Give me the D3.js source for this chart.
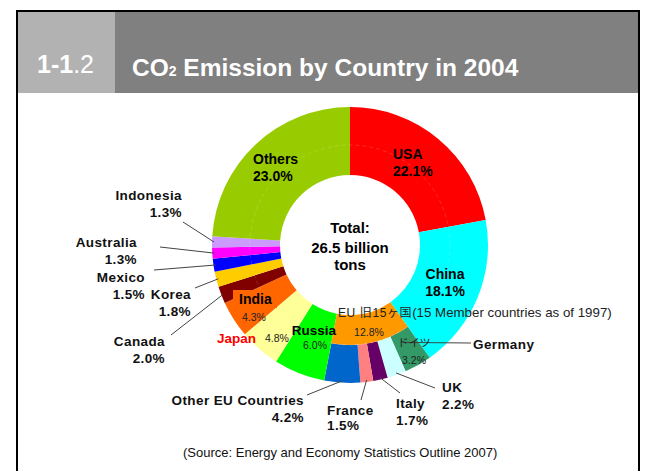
<!DOCTYPE html>
<html>
<head>
<meta charset="utf-8">
<script src="https://cdn.jsdelivr.net/npm/d3@7"></script>
<style>
  body { margin: 0; background: #fff; }
  svg { font-family: "Liberation Sans", Arial, "Noto Sans CJK JP", sans-serif; }
  .big { font-weight: bold; font-size: 14px; fill: #000; }
  .side { font-weight: bold; font-size: 13.5px; fill: #111; letter-spacing: 0.4px; }
  .small { font-size: 10.5px; fill: #222; }
</style>
</head>
<body>
<script>
// shares of world CO2 emission, 2004 (%), clockwise from 12 o'clock
var countries = ["USA", "China", "Germany", "UK", "Italy", "France", "Other EU Countries",
  "Russia", "Japan", "India", "Canada", "Korea", "Mexico", "Australia", "Indonesia", "Others"];
var shares = [22.1, 18.1, 3.2, 2.2, 1.7, 1.5, 4.2, 6.0, 4.8, 4.3, 2.0, 1.8, 1.5, 1.3, 1.3, 23.0];
var colors = ["#ff0000", "#00ffff", "#339966", "#ccffff", "#660066", "#ff8080", "#0066cc",
  "#00ff00", "#ffff99", "#ff6600", "#800000", "#ffcc00", "#0000ff", "#ff00ff", "#cc99ff", "#99cc00"];
var euMembers = ["Germany", "UK", "Italy", "France", "Other EU Countries"];
var euShare = 12.8;
var total = "26.5 billion";

var W = 646, H = 471,
  cx = 350, cy = 245,
  rIn = 70, rMid = 100, rOut = 138;

var svg = d3.select("body").append("svg")
  .attr("width", W)
  .attr("height", H);

// frame + header
svg.append("rect").attr("x", 17).attr("y", 11).attr("width", 622).attr("height", 480)
  .attr("fill", "#fff").attr("stroke", "#000").attr("stroke-width", 2);
svg.append("rect").attr("x", 18).attr("y", 12).attr("width", 620).attr("height", 81).attr("fill", "#808080");
svg.append("rect").attr("x", 18).attr("y", 12).attr("width", 97).attr("height", 81).attr("fill", "#b2b2b2");

var num = svg.append("text").attr("x", 37).attr("y", 73)
  .attr("fill", "#fff").style("font-size", "25px");
num.append("tspan").style("font-weight", "bold").text("1-1");
num.append("tspan").text(".2");

var title = svg.append("text").attr("x", 132).attr("y", 76)
  .attr("fill", "#fff").style("font-size", "24.5px").style("font-weight", "bold");
title.append("tspan").text("CO");
title.append("tspan").style("font-size", "14px").text("2");
title.append("tspan").text(" Emission by Country in 2004");

// angle scale over 100%
var angle = d3.scaleLinear().domain([0, 100]).range([0, 2 * Math.PI]);

var acc = 0;
var slices = countries.map(function (c, i) {
  var s = {name: c, value: shares[i], start: acc, end: acc + shares[i], color: colors[i],
    eu: euMembers.indexOf(c) >= 0};
  acc += shares[i];
  return s;
});
slices[slices.length - 1].end = 100; // ring closes on "Others"

var arc = d3.arc()
  .innerRadius(function (d) { return d.eu ? rMid : rIn; })
  .outerRadius(rOut)
  .startAngle(function (d) { return angle(d.start); })
  .endAngle(function (d) { return angle(d.end); });

var g = svg.append("g").attr("transform", "translate(" + cx + "," + cy + ")");

g.selectAll("path.slice")
  .data(slices)
  .enter().append("path")
  .attr("class", "slice")
  .attr("d", arc)
  .attr("fill", function (d) { return d.color; });

// EU-15 inner band
var euSlices = slices.filter(function (d) { return d.eu; });
var euBand = {start: euSlices[0].start, end: euSlices[0].start + euShare};
g.append("path")
  .attr("d", d3.arc().innerRadius(rIn).outerRadius(rMid)
    .startAngle(angle(euBand.start)).endAngle(angle(euBand.end)))
  .attr("fill", "#ff9900");

// faint seam between the two rings
g.append("circle").attr("r", rMid).attr("fill", "none")
  .attr("stroke", "#fff").attr("stroke-opacity", 0.15).attr("stroke-dasharray", "4,3");

function byName(n) { return slices.filter(function (d) { return d.name === n; })[0]; }
function pct(n) { return byName(n).value.toFixed(1) + "%"; }
function pointAt(n, r) {
  var s = byName(n), a = angle((s.start + s.end) / 2);
  return [cx + r * Math.sin(a), cy - r * Math.cos(a)];
}

// leader lines: label end -> slice
var leaders = [
  {name: "Indonesia", from: [183, 222], r: rOut - 2},
  {name: "Australia", from: [160, 247], r: rOut - 2},
  {name: "Mexico", from: [154, 270], r: rOut - 2},
  {name: "Korea", from: [195, 288], r: rOut - 2},
  {name: "Canada", from: [171, 335], r: rOut - 2},
  {name: "Other EU Countries", from: [307, 395], r: rOut - 2},
  {name: "France", from: [361, 400], r: rOut - 2},
  {name: "Italy", from: [400, 393], r: rOut - 2},
  {name: "UK", from: [435, 388], r: rOut - 2},
  {name: "Germany", from: [471, 343], r: 112}
];
svg.selectAll("line.leader")
  .data(leaders)
  .enter().append("line")
  .attr("class", "leader")
  .attr("x1", function (d) { return d.from[0]; })
  .attr("y1", function (d) { return d.from[1]; })
  .attr("x2", function (d) { return pointAt(d.name, d.r)[0]; })
  .attr("y2", function (d) { return pointAt(d.name, d.r)[1]; })
  .attr("stroke", "#444")
  .attr("stroke-width", 1);

// India label box
svg.append("rect").attr("x", 233).attr("y", 290).attr("width", 44).attr("height", 18)
  .attr("fill", byName("India").color);

// two-line labels
var labels = [
  {name: "USA", x: 393, y: 159, anchor: "start", cls: "big"},
  {name: "Others", x: 253, y: 164, anchor: "start", cls: "big"},
  {name: "China", x: 445, y: 279, anchor: "middle", cls: "big"},
  {name: "Indonesia", x: 182, y: 200, anchor: "end", cls: "side"},
  {name: "Australia", x: 137, y: 247, anchor: "end", cls: "side"},
  {name: "Mexico", x: 145, y: 282, anchor: "end", cls: "side"},
  {name: "Korea", x: 191, y: 299, anchor: "end", cls: "side"},
  {name: "Canada", x: 165, y: 346, anchor: "end", cls: "side"},
  {name: "Other EU Countries", x: 304, y: 405, anchor: "end", cls: "side"},
  {name: "France", x: 327, y: 415, anchor: "start", cls: "side", dy: 15},
  {name: "Italy", x: 396, y: 408, anchor: "start", cls: "side"},
  {name: "UK", x: 442, y: 392, anchor: "start", cls: "side"}
];
labels.forEach(function (l) {
  var t = svg.append("text").attr("class", l.cls)
    .attr("text-anchor", l.anchor).attr("x", l.x).attr("y", l.y);
  t.append("tspan").text(l.name);
  t.append("tspan").attr("x", l.x).attr("dy", l.dy || 17).text(pct(l.name));
});

// labels drawn inside the ring
svg.append("text").attr("class", "big").attr("x", 239).attr("y", 304).text("India");
svg.append("text").attr("class", "small").attr("x", 242).attr("y", 321).text(pct("India"));
svg.append("text").attr("class", "big").attr("x", 217).attr("y", 343)
  .style("font-size", "13.5px").style("fill", "#ff0000").text("Japan");
svg.append("text").attr("class", "small").attr("x", 265).attr("y", 342).text(pct("Japan"));
svg.append("text").attr("class", "big").attr("text-anchor", "middle").attr("x", 314).attr("y", 335)
  .style("font-size", "13.5px").text("Russia");
svg.append("text").attr("class", "small").attr("text-anchor", "middle").attr("x", 315).attr("y", 349).text(pct("Russia"));

var eu = svg.append("text").attr("x", 338).attr("y", 317).attr("fill", "#222");
eu.append("tspan").style("font-size", "12px").style("letter-spacing", "0.6px").text("EU  旧15ヶ国");
eu.append("tspan").style("font-size", "13.3px").text("(15 Member countries as of 1997)");
svg.append("text").attr("class", "small").attr("text-anchor", "middle").attr("x", 369).attr("y", 336)
  .text(euShare.toFixed(1) + "%");
svg.append("text").attr("class", "small").attr("text-anchor", "middle").attr("x", 414).attr("y", 347)
  .style("font-size", "11px").text("ドイツ");
svg.append("text").attr("class", "small").attr("text-anchor", "middle").attr("x", 414).attr("y", 364).text(pct("Germany"));
svg.append("text").attr("class", "side").attr("x", 473).attr("y", 349).text("Germany");

// centre total
var tot = svg.append("text").attr("text-anchor", "middle").attr("x", cx)
  .style("font-size", "15px").style("font-weight", "bold");
tot.append("tspan").attr("x", cx).attr("y", 233).text("Total:");
tot.append("tspan").attr("x", cx).attr("y", 253).text(total);
tot.append("tspan").attr("x", cx).attr("y", 270).text("tons");

svg.append("text").attr("x", 183).attr("y", 457).style("font-size", "13px").attr("fill", "#111")
  .text("(Source: Energy and Economy Statistics Outline 2007)");
</script>
</body>
</html>
